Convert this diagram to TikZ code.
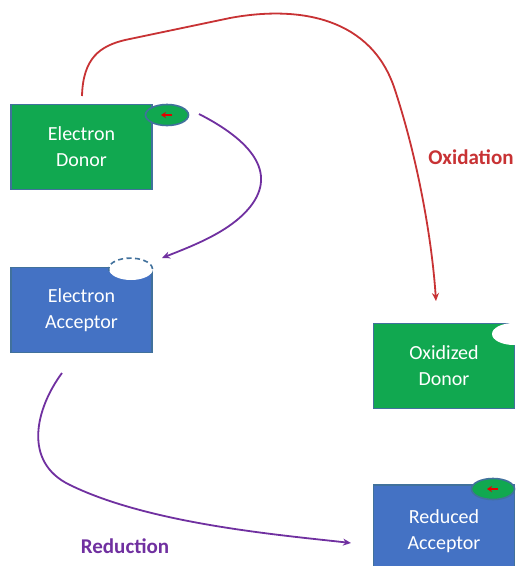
\documentclass[tikz,border=0pt]{standalone}
\usepackage{fontspec}
\setmainfont{Carlito}
\usetikzlibrary{shapes.geometric,arrows.meta}
\definecolor{boxgreen}{RGB}{17,168,80}
\definecolor{boxblue}{RGB}{68,114,196}
\definecolor{edgeblue}{RGB}{65,113,156}
\definecolor{oxred}{RGB}{200,50,52}
\definecolor{redpurple}{RGB}{112,48,160}
\tikzset{
  species/.style={rectangle, draw=edgeblue, line width=1.5pt, minimum width=141pt,
    minimum height=85pt, text=white, align=center,
    font=\fontsize{20}{26}\selectfont},
  donorbox/.style={species, fill=boxgreen},
  acceptorbox/.style={species, fill=boxblue},
  electron/.style={ellipse, draw=edgeblue, line width=1.6pt, fill=boxgreen,
    minimum width=43pt, minimum height=21pt, inner sep=0pt},
  blank/.style={ellipse, fill=white, inner sep=0pt},
  charge/.style={draw=red!90!black, line width=1.3pt, -{Stealth[length=5pt,width=6pt]}},
  oxpath/.style={draw=oxred, line width=1.8pt, -{Stealth[length=8pt,width=7pt]}},
  redpath/.style={draw=redpurple, line width=1.8pt, -{Stealth[length=8pt,width=7pt]}},
  tag/.style={font=\bfseries\fontsize{21}{24}\selectfont}
}
\begin{document}
\begin{tikzpicture}[x=1pt,y=-1pt]
  \useasboundingbox (0,0) rectangle (518,566);
  \fill[white] (0,0) rectangle (518,566);
  \clip (0,0) rectangle (518,566);

  % reactants
  \node[donorbox] (donor) at (81.5,147) {Electron\\Donor};
  \node[electron] (e1) at (167,115) {};
  \draw[charge] ([xshift=5pt]e1.center) -- ([xshift=-6pt]e1.center);

  \node[acceptorbox] (acceptor) at (81.5,310) {Electron\\Acceptor};
  % vacancy left by the electron: white patch with a dashed upper rim
  \node[blank, minimum width=44pt, minimum height=22pt] (h1) at (131,269) {};
  \draw[edgeblue, line width=1.6pt, dash pattern=on 5pt off 3.5pt, dash phase=1pt]
    ([yshift=-2pt]h1.west) arc[start angle=190, end angle=-10, x radius=22pt, y radius=11pt];

  % products
  \node[donorbox] (oxdonor) at (444,366) {Oxidized\\Donor};
  \node[blank, minimum width=44pt, minimum height=22pt] (h2) at (514,334) {};

  \node[acceptorbox, minimum height=92pt] (redacceptor) at (444,531) {Reduced\\Acceptor};
  \node[electron] (e2) at (493,489) {};
  \draw[charge] ([xshift=5pt]e2.center) -- ([xshift=-6pt]e2.center);

  % oxidation path
  \coordinate (oxstart) at (82,96);
  \coordinate (oxend) at (436,301);
  \draw[oxpath] (oxstart) .. controls (83,58) and (100,46) .. (125,40)
    -- (230,18) .. controls (300,5) and (372,18) .. (395,90)
    .. controls (418,160) and (432,240) .. (oxend);
  \node[tag, text=oxred] (oxlabel) at (471,157) {Oxidation};

  % electron transfer to the acceptor
  \coordinate (e1tail) at (199,114);
  \coordinate (h1head) at (162,258);
  \draw[redpath] (e1tail) .. controls (250,140) and (278,172) .. (250,207)
    .. controls (230,232) and (192,246) .. (h1head);

  % reduction path
  \coordinate (redstart) at (62,373);
  \coordinate (redend) at (351,543);
  \draw[redpath] (redstart) .. controls (36,408) and (22,462) .. (70,485)
    .. controls (150,524) and (280,535) .. (redend);
  \node[tag, text=redpurple] (redlabel) at (125,546) {Reduction};
\end{tikzpicture}
\end{document}
